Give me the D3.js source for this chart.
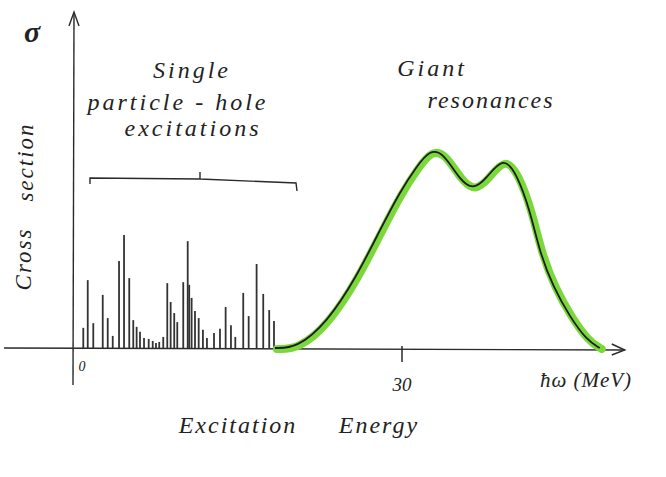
<!DOCTYPE html>
<html lang="en">
<head>
  <meta charset="UTF-8">
  <title>Cross section vs excitation energy</title>
  <script src="https://d3js.org/d3.v7.min.js"></script>
  <style>
    body { margin: 0; background: #fff; }
    text { font-family: "Liberation Serif", serif; font-style: italic; fill: #222; }
  </style>
</head>
<body>
<div id="chart"></div>
<script>
  // Single particle-hole spikes: energy (MeV) and height (arbitrary units)
  const spikeEnergy = [0.67, 1.08, 1.59, 2.46, 2.92, 3.38, 3.96, 4.42, 4.90, 5.27, 5.58, 5.89, 6.26, 6.69,
    7.06, 7.36, 7.66, 8.03, 8.40, 8.71, 9.04, 9.32, 9.87, 10.28, 10.42, 10.64, 10.95, 11.29, 11.68, 12.05,
    12.70, 13.25, 13.77, 14.26, 14.66, 15.39, 15.89, 16.62, 17.23, 17.78, 18.22];
  const spikeHeight = [6.0, 20.2, 7.4, 15.8, 8.9, 3.6, 25.9, 33.6, 20.8, 8.3, 6.3, 4.8, 3.0, 2.7,
    2.1, 1.5, 1.8, 3.3, 19.3, 13.7, 10.4, 7.7, 19.6, 31.8, 18.8, 14.9, 11.0, 8.9, 5.4, 3.0,
    4.5, 5.7, 12.2, 6.8, 3.3, 16.4, 9.5, 25.0, 16.1, 11.3, 8.0];

  // Giant resonance curve
  const grEnergy = [18.3, 20.3, 23.06, 25.82, 27.97, 29.81, 31.34, 32.57, 33.79, 35.33, 36.55,
    37.78, 39.31, 40.54, 41.77, 42.69, 43.91, 45.45, 46.98, 48.2];
  const grValue = [0, 0, 7.4, 21.2, 35.1, 46.5, 54.0, 59.0, 58.2, 50.0, 47.0,
    50.5, 57.0, 52.0, 41.1, 28.3, 18.2, 9.3, 2.4, 0];

  const xTicks = [0, 30];
  const xTickLabels = ["0", "30"];
  const yLabel = ["Cross", "section"];
  const xLabel = ["Excitation", "Energy"];
  const unitLabel = "ħω (MeV)";
  const spikeTitle = ["Single", "particle - hole", "excitations"];
  const grTitle = ["Giant", "resonances"];

  const width = 666, height = 477;
  const x = d3.scaleLinear().domain([0, 30]).range([76, 402]);
  const y = d3.scaleLinear().domain([0, 100]).range([348, 12]);

  const svg = d3.select('#chart').append('svg')
    .attr('width', width)
    .attr('height', height);

  const ink = '#2a2a2a';

  // axes
  svg.append('line')
    .attr('x1', 4).attr('y1', y(0)).attr('x2', x(50.5)).attr('y2', y(0) + 2)
    .attr('stroke', ink).attr('stroke-width', 1.4);
  svg.append('path')
    .attr('d', `M${x(50.5) - 13},${y(0) - 4} L${x(50.5)},${y(0) + 2} L${x(50.5) - 13},${y(0) + 7}`)
    .attr('fill', 'none').attr('stroke', ink).attr('stroke-width', 1.4);

  svg.append('line')
    .attr('x1', 73).attr('y1', 385).attr('x2', 74).attr('y2', 13)
    .attr('stroke', ink).attr('stroke-width', 1.4);
  svg.append('path')
    .attr('d', 'M69,26 L74,12 L79,26')
    .attr('fill', 'none').attr('stroke', ink).attr('stroke-width', 1.4);

  // x ticks
  svg.selectAll('.xtick')
    .data(xTicks.filter(d => d !== 0))
    .enter().append('line')
    .attr('x1', d => x(d)).attr('x2', d => x(d))
    .attr('y1', y(0) - 2).attr('y2', y(0) + 14)
    .attr('stroke', ink).attr('stroke-width', 1.5);

  svg.selectAll('.xlab')
    .data(xTicks)
    .enter().append('text')
    .attr('x', d => d === 0 ? x(d) + 6 : x(d))
    .attr('y', d => d === 0 ? 371 : 391)
    .attr('text-anchor', 'middle')
    .attr('font-size', d => d === 0 ? 14 : 19)
    .text((d, i) => xTickLabels[i]);

  // spikes
  svg.selectAll('.spike')
    .data(spikeEnergy)
    .enter().append('line')
    .attr('x1', d => x(d)).attr('x2', d => x(d))
    .attr('y1', y(0))
    .attr('y2', (d, i) => y(spikeHeight[i]))
    .attr('stroke', '#333').attr('stroke-width', 1.8);

  // giant resonance
  const grData = grEnergy.map((e, i) => ({ e: e, v: grValue[i] }));
  const line = d3.line()
    .x(d => x(d.e))
    .y(d => y(d.v))
    .curve(d3.curveBasis);

  svg.append('path')
    .datum(grData)
    .attr('fill', 'none')
    .attr('stroke', '#7bd83a')
    .attr('stroke-width', 8)
    .attr('stroke-linecap', 'round')
    .attr('transform', 'translate(2,1)')
    .attr('d', line);

  svg.append('path')
    .datum(grData)
    .attr('fill', 'none')
    .attr('stroke', '#1c1c1c')
    .attr('stroke-width', 1.8)
    .attr('d', line);

  // bracket over the spikes
  svg.append('path')
    .attr('d', 'M90,184 L90,178 L200,179 L200,172 M200,179 L296,183 L297,191')
    .attr('fill', 'none').attr('stroke', ink).attr('stroke-width', 1.4);

  // texts
  svg.append('text')
    .attr('x', 32).attr('y', 42)
    .attr('text-anchor', 'middle')
    .attr('font-size', 30).attr('font-weight', 'bold')
    .text('σ');

  svg.selectAll('.ylab')
    .data(yLabel)
    .enter().append('text')
    .attr('transform', (d, i) => `translate(${[31, 33][i]},${[259, 162][i]}) rotate(-90)`)
    .attr('text-anchor', 'middle')
    .attr('font-size', 23)
    .attr('letter-spacing', 2)
    .text(d => d);

  svg.selectAll('.sp')
    .data(spikeTitle)
    .enter().append('text')
    .attr('x', (d, i) => [192, 178, 193][i])
    .attr('y', (d, i) => [78, 110, 136][i])
    .attr('text-anchor', 'middle')
    .attr('font-size', 24)
    .attr('letter-spacing', 3)
    .text(d => d);

  svg.selectAll('.gr')
    .data(grTitle)
    .enter().append('text')
    .attr('x', (d, i) => [432, 491][i])
    .attr('y', (d, i) => [76, 108][i])
    .attr('text-anchor', 'middle')
    .attr('font-size', 24)
    .attr('letter-spacing', (d, i) => [3, 2][i])
    .text(d => d);

  svg.append('text')
    .attr('x', 586).attr('y', 387)
    .attr('text-anchor', 'middle')
    .attr('font-size', 21)
    .attr('letter-spacing', 1)
    .text(unitLabel);

  svg.selectAll('.xl')
    .data(xLabel)
    .enter().append('text')
    .attr('x', (d, i) => [238, 379][i])
    .attr('y', 433)
    .attr('text-anchor', 'middle')
    .attr('font-size', 24)
    .attr('letter-spacing', 2)
    .text(d => d);
</script>
</body>
</html>
